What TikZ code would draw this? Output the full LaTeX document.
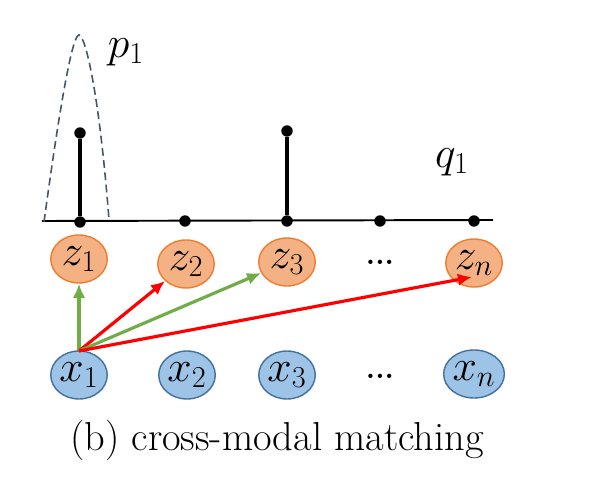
\documentclass[tikz,border=0pt]{standalone}
\usepackage{tikz}
\usetikzlibrary{arrows,arrows.meta,shapes}
\usetikzlibrary{calc}
\definecolor{zfill}{HTML}{F4B183}
\definecolor{zline}{HTML}{ED7D31}
\definecolor{xfill}{HTML}{9DC3E6}
\definecolor{xline}{HTML}{41719C}
\definecolor{gauss}{HTML}{44546A}
\definecolor{matchgreen}{HTML}{70AD47}
\tikzstyle{vertex}=[ellipse,draw,line width=0.8pt,minimum width=1.13cm,minimum height=0.96cm,inner sep=0pt,font=\fontsize{23}{26}\selectfont]
\tikzstyle{zvertex}=[vertex,fill=zfill,draw=zline]
\tikzstyle{xvertex}=[vertex,fill=xfill,draw=xline]
\tikzstyle{dot}=[circle,fill=black,minimum size=6.5pt,inner sep=0pt]
\tikzstyle{stem}=[draw,line width=2pt]
\tikzstyle{match}=[draw,line width=1.8pt,-{Latex[length=8pt,width=7pt]}]
\tikzstyle{label}=[font=\fontsize{23}{26}\selectfont]
\tikzstyle{more}=[font=\fontsize{17}{20}\selectfont\bfseries]

\begin{document}
\begin{tikzpicture}[x=0.02cm,y=-0.02cm]
    \useasboundingbox (0,0) rectangle (590,502);
    % Draw the probability line
    \coordinate (L) at (42,221);
    \coordinate (R) at (493,220);
    \draw[line width=1.1pt] (L) -- (R);
    \foreach \pos/ \name in {{(80,222)/d1},{(185,221)/d2},{(287,221)/d3},{(380,221)/d4},{(474,221)/dn}}
        \node[dot] (\name) at \pos {};
    \node[dot] (t1) at (80,133) {};
    \node[dot] (t3) at (287,131) {};
    \path[stem] (d1) -- (t1);
    \path[stem] (d3) -- (t3);
    % the peak of p_1
    \draw[gauss,dash pattern=on 4.5pt off 2.5pt,line width=0.9pt] (44,222) .. controls (62,90) and (73,35) .. (79,35)
        .. controls (85,35) and (99,90) .. (109,220);
    \node[label] (p1) at (126,52) {$p_1$};
    \node[label] (q1) at (452,162) {$q_1$};

    % Then the vertices
    \foreach \pos/ \name/ \text in {{(79,259)/z1/z_1},{(186,264)/z2/z_2},{(287,262)/z3/z_3},{(474,263)/zn/z_n}}
        \node[zvertex] (\name) at \pos {$\text$};
    \foreach \pos/ \name/ \text in {{(79,375)/x1/x_1},{(187,375)/x2/x_2},{(287,375)/x3/x_3},{(474,374)/xn/x_n}}
        \node[xvertex] (\name) at \pos {$\text$};
    \node[more] (zdots) at (380,262) {...};
    \node[more] (xdots) at (380,376) {...};

    % Connect x_1 with the z's
    \coordinate (src) at (79,351);
    \path[match,matchgreen] (src) -- (z1);
    \path[match,red] (src) -- (z2);
    \path[match,matchgreen] (src) -- (z3);
    \path[match,red] (src) -- ($(zn.center)+(-2,14)$);

    \node[font=\fontsize{23}{27}\selectfont] (caption) at (277,440) {(b) cross-modal matching};
\end{tikzpicture}
\end{document}
